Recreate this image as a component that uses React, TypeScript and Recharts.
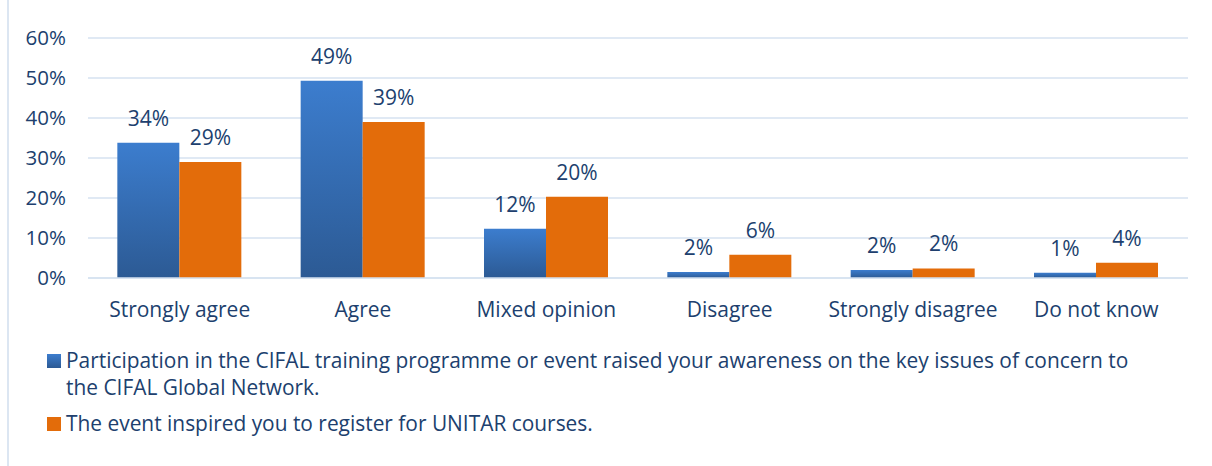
import React from "react";
import { BarChart, Bar, XAxis, YAxis, CartesianGrid, Legend, LabelList } from "recharts";

const categories = ["Strongly agree", "Agree", "Mixed opinion", "Disagree", "Strongly disagree", "Do not know"];
const awareness = [33.8, 49.3, 12.3, 1.5, 2.0, 1.3];
const unitar = [29.0, 39.0, 20.3, 5.8, 2.4, 3.8];
const seriesNames = [
  "Participation in the CIFAL training programme or event raised your awareness on the key issues of concern to the CIFAL Global Network.",
  "The event inspired you to register for UNITAR courses.",
];
const yTicks = [0, 10, 20, 30, 40, 50, 60];

const data = categories.map((c, i) => ({ name: c, awareness: awareness[i], unitar: unitar[i] }));

const FONT = "'Open Sans', sans-serif";
const TEXT = "#203F6E";

const LegendContent = (props: any) => {
  const { payload } = props;
  return (
    <div style={{ fontFamily: FONT, fontSize: 20.9, color: TEXT }}>
      {(payload || []).map((p: any, i: number) => (
        <div key={i} style={{ display: "flex", alignItems: "flex-start", marginBottom: 9, lineHeight: "27px" }}>
          <span
            style={{
              display: "inline-block",
              width: 14,
              height: 14,
              marginTop: 7,
              marginRight: 5,
              flex: "none",
              background: i === 0 ? "linear-gradient(#3C7DCE,#2C5A94)" : "#E36C0A",
            }}
          />
          <span style={{ width: 1085 }}>{p.value}</span>
        </div>
      ))}
    </div>
  );
};

export default function App() {
  return (
    <div style={{ position: "absolute", left: 0, top: 0, width: 1212, height: 466, background: "#fff" }}>
      <div style={{ position: "absolute", left: 7, top: 0, width: 2, height: 466, background: "#DCE6F2" }} />
      <BarChart
        width={1212}
        height={466}
        data={data}
        margin={{ top: 38, right: 24, bottom: 148, left: 0 }}
        barCategoryGap="16%"
        barGap={0}
      >
        <defs>
          <linearGradient id="blueGrad" x1="0" y1="0" x2="0" y2="1">
            <stop offset="0%" stopColor="#3C7DCE" />
            <stop offset="100%" stopColor="#2C5A94" />
          </linearGradient>
        </defs>
        <CartesianGrid vertical={false} stroke="#D6E2F1" strokeWidth={1.5} />
        <XAxis
          dataKey="name"
          axisLine={{ stroke: "#D6E2F1", strokeWidth: 1.5 }}
          tickLine={false}
          tickMargin={18}
          height={40}
          tick={{ fill: TEXT, fontSize: 21, fontFamily: FONT }}
        />
        <YAxis
          width={88}
          domain={[0, 60]}
          ticks={yTicks}
          tickFormatter={(v: number) => `${v}%`}
          axisLine={false}
          tickLine={false}
          tickMargin={16}
          tick={{ fill: TEXT, fontSize: 20.5, fontFamily: FONT }}
        />
        <Legend
          layout="vertical"
          verticalAlign="middle"
          align="center"
          content={<LegendContent />}
          wrapperStyle={{ top: 347, left: 47, width: 1140 }}
        />
        <Bar dataKey="awareness" name={seriesNames[0]} fill="url(#blueGrad)" isAnimationActive={false}>
          <LabelList
            dataKey="awareness"
            position="top"
            offset={17}
            formatter={(v: any) => `${Math.round(Number(v))}%`}
            style={{ fill: TEXT, fontSize: 21, fontFamily: FONT }}
          />
        </Bar>
        <Bar dataKey="unitar" name={seriesNames[1]} fill="#E36C0A" isAnimationActive={false}>
          <LabelList
            dataKey="unitar"
            position="top"
            offset={17}
            formatter={(v: any) => `${Math.round(Number(v))}%`}
            style={{ fill: TEXT, fontSize: 21, fontFamily: FONT }}
          />
        </Bar>
      </BarChart>
    </div>
  );
}
